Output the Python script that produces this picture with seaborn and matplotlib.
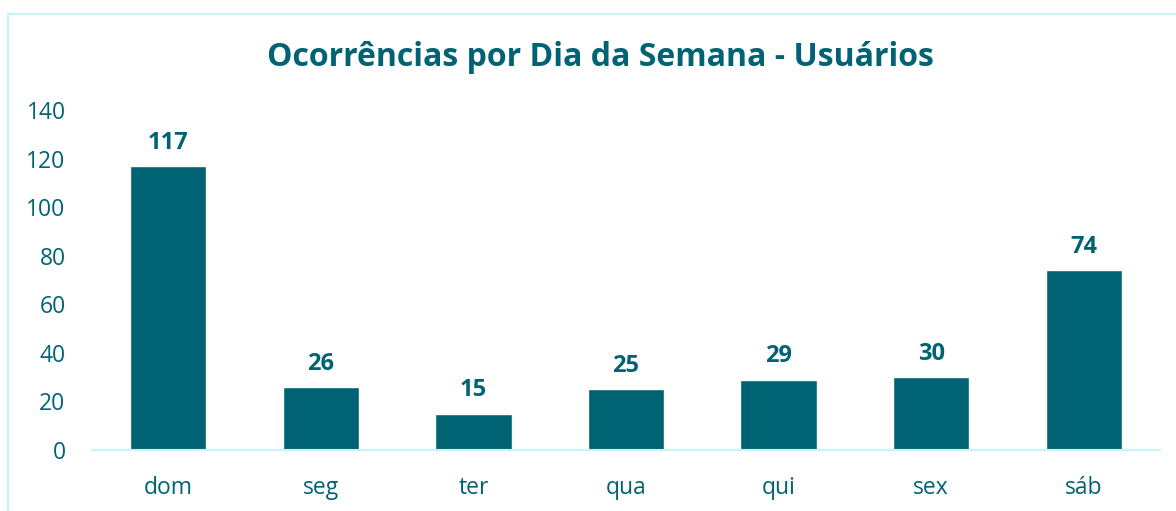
import matplotlib
matplotlib.use("Agg")
import matplotlib.pyplot as plt
import matplotlib.patches as mpatches
import pandas as pd
import seaborn as sns

dias = ["dom", "seg", "ter", "qua", "qui", "sex", "sáb"]
ocorrencias = [117, 26, 15, 25, 29, 30, 74]
yticks = [0, 20, 40, 60, 80, 100, 120, 140]

cor = "#006374"
cor_linha = "#c8f3fb"

sns.set_theme(style="white")
plt.rcParams["font.family"] = ["Open Sans", "DejaVu Sans"]

df = pd.DataFrame({"dia": dias, "ocorrencias": ocorrencias})

fig = plt.figure(figsize=(11.76, 5.11), dpi=100)
ax = fig.add_axes([92 / 1176, 1 - 450 / 511, 1068 / 1176, 340 / 511])

sns.barplot(data=df, x="dia", y="ocorrencias", color=cor, width=0.5,
            saturation=1, ax=ax)

for i, v in enumerate(ocorrencias):
    ax.annotate(str(v), (i, v), xytext=(0, 8), textcoords="offset points",
                ha="center", va="bottom", fontsize=17, fontweight="bold",
                color=cor)

ax.set_xlim(-0.5, 6.5)
ax.set_ylim(0, 140)
ax.set_yticks(yticks)
ax.set_xlabel("")
ax.set_ylabel("")
for s in ["top", "right", "left"]:
    ax.spines[s].set_visible(False)
ax.spines["bottom"].set_color(cor_linha)
ax.spines["bottom"].set_linewidth(1.5)
ax.tick_params(axis="y", length=0, pad=19, labelsize=16.5, labelcolor=cor)
ax.tick_params(axis="x", length=0, pad=19, labelsize=16.5, labelcolor=cor)

fig.text(600 / 1176, 1 - 57 / 511, "Ocorrências por Dia da Semana - Usuários",
         ha="center", va="center", fontsize=23, fontweight="bold", color=cor)

# moldura clara
fig.patches.append(mpatches.Rectangle((8 / 1176, -0.05), 1.1, 0.05 + 1 - 14 / 511,
                                      transform=fig.transFigure, fill=False,
                                      edgecolor=cor_linha, linewidth=1.5))

fig.savefig("out.png", dpi=100)
